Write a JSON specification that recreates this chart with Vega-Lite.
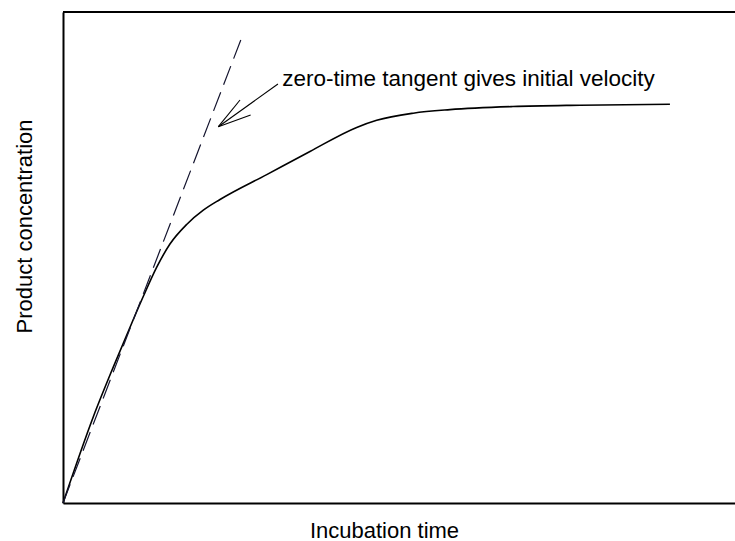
{
  "$schema": "https://vega.github.io/schema/vega-lite/v6.json",
  "width": 672,
  "height": 491,
  "autosize": {"type": "none"},
  "padding": {"left": 63, "top": 12, "right": 0, "bottom": 38},
  "background": "white",
  "config": {
    "view": {"stroke": null},
    "axis": {
      "domainColor": "black",
      "domainWidth": 2,
      "ticks": false,
      "labels": false,
      "grid": false,
      "titleFont": "Liberation Sans",
      "titleFontSize": 22,
      "titleFontWeight": "normal",
      "titleColor": "black"
    }
  },
  "layer": [
    {
      "description": "product formed over time",
      "data": {
        "values": [
          {"time": 0, "conc": 0},
          {"time": 2.0, "conc": 0.97},
          {"time": 3.32, "conc": 1.53},
          {"time": 4.53, "conc": 2.02},
          {"time": 5.29, "conc": 2.32},
          {"time": 6.18, "conc": 2.65},
          {"time": 7.05, "conc": 2.91},
          {"time": 8.15, "conc": 3.13},
          {"time": 9.25, "conc": 3.29},
          {"time": 10.35, "conc": 3.41},
          {"time": 13.43, "conc": 3.69},
          {"time": 16.28, "conc": 3.95},
          {"time": 19.36, "conc": 4.22},
          {"time": 20.68, "conc": 4.30},
          {"time": 23.09, "conc": 4.38},
          {"time": 25.51, "conc": 4.42},
          {"time": 29.66, "conc": 4.455},
          {"time": 34.08, "conc": 4.47},
          {"time": 40.01, "conc": 4.48}
        ]
      },
      "mark": {"type": "line", "color": "black", "strokeWidth": 1.6, "interpolate": "monotone"},
      "encoding": {
        "x": {
          "field": "time", "type": "quantitative", "title": "Incubation time",
          "scale": {"domain": [0, 44.3], "nice": false, "zero": true},
          "axis": {"titleX": 321, "titleY": 34, "titleAlign": "center", "titleBaseline": "alphabetic", "titleAnchor": null}
        },
        "y": {
          "field": "conc", "type": "quantitative", "title": "Product concentration",
          "scale": {"domain": [0, 5.517], "nice": false, "zero": true},
          "axis": {"titleX": -32, "titleY": 214, "titleAngle": -90, "titleAlign": "center", "titleBaseline": "alphabetic", "titleAnchor": null}
        }
      }
    },
    {
      "description": "zero-time tangent",
      "data": {"values": [{"time": 0, "conc": 0}, {"time": 11.82, "conc": 5.247}]},
      "mark": {"type": "line", "color": "#14142e", "strokeWidth": 1.2, "strokeDash": [20, 8]},
      "encoding": {
        "x": {"field": "time", "type": "quantitative", "title": "Incubation time"},
        "y": {"field": "conc", "type": "quantitative", "title": "Product concentration"}
      }
    },
    {
      "description": "arrow shaft and head",
      "data": {
        "values": [
          {"time": 10.24, "conc": 4.228, "time2": 14.17, "conc2": 4.708},
          {"time": 10.24, "conc": 4.228, "time2": 11.67, "conc2": 4.528},
          {"time": 10.24, "conc": 4.228, "time2": 12.37, "conc2": 4.36}
        ]
      },
      "mark": {"type": "rule", "color": "black", "strokeWidth": 1.1},
      "encoding": {
        "x": {"field": "time", "type": "quantitative", "title": "Incubation time"},
        "y": {"field": "conc", "type": "quantitative", "title": "Product concentration"},
        "x2": {"field": "time2"},
        "y2": {"field": "conc2"}
      }
    },
    {
      "description": "annotation",
      "data": {"values": [{"time": 14.45, "conc": 4.691, "note": "zero-time tangent gives initial velocity"}]},
      "mark": {"type": "text", "align": "left", "baseline": "alphabetic", "font": "Liberation Sans", "fontSize": 22.5, "color": "black"},
      "encoding": {
        "x": {"field": "time", "type": "quantitative", "title": "Incubation time"},
        "y": {"field": "conc", "type": "quantitative", "title": "Product concentration"},
        "text": {"field": "note"}
      }
    },
    {
      "description": "top frame line",
      "data": {"values": [{"conc": 5.517}]},
      "mark": {"type": "rule", "color": "black", "strokeWidth": 2},
      "encoding": {
        "y": {"field": "conc", "type": "quantitative", "title": "Product concentration"}
      }
    }
  ]
}
